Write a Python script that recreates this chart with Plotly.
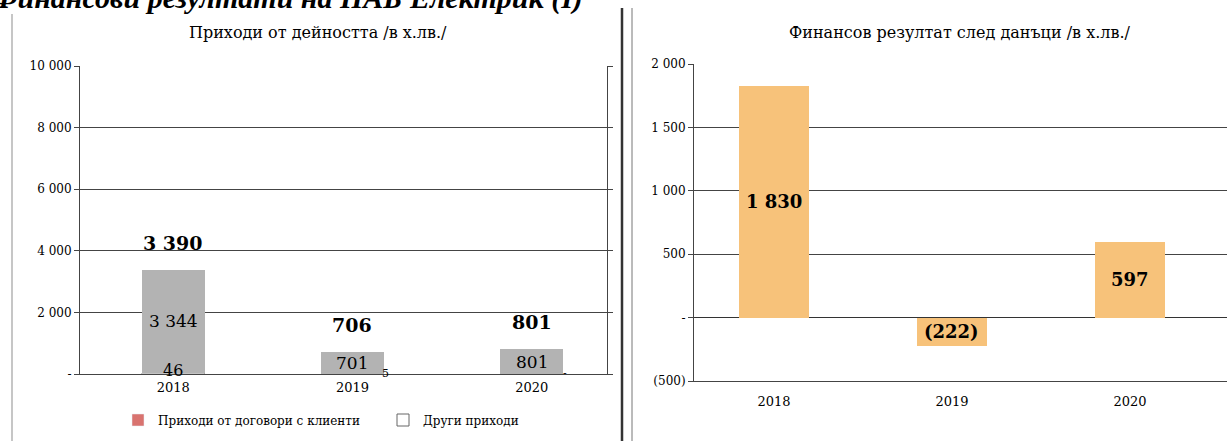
import plotly.graph_objects as go

W, H = 1227, 441

years = ["2018", "2019", "2020"]
rev_contracts = [3344, 701, 801]
rev_other = [46, 5, 0]
net_result = [1830, -222, 597]

left_ticks = [0, 2000, 4000, 6000, 8000, 10000]
left_ticktext = ["-", "2 000", "4 000", "6 000", "8 000", "10 000"]
right_ticks = [-500, 0, 500, 1000, 1500, 2000]
right_ticktext = ["(500)", "-", "500", "1 000", "1 500", "2 000"]

heading = "Финансови резултати на НАБ Електрик (I)"
title_left = "Приходи от дейността /в х.лв./"
title_right = "Финансов резултат след данъци /в х.лв./"
name_contracts = "Приходи от договори с клиенти"
name_other = "Други приходи"

FONT = "DejaVu Serif"
HFONT = "Liberation Serif"
GRAY = "#b3b3b3"
ORANGE = "#f7c27a"
LEGEND_RED = "#d9736f"


def fmt(v):
    if v == 0:
        return "-"
    s = f"{abs(v):,}".replace(",", " ")
    return f"({s})" if v < 0 else s


def px(x):
    return x / W


def py(y):
    return 1 - y / H


fig = go.Figure()

# left chart: stacked revenue bars
fig.add_trace(go.Bar(x=years, y=rev_other, marker=dict(color="white", line=dict(color="#888", width=0.5)),
                     width=0.35, showlegend=False, xaxis="x", yaxis="y", hoverinfo="skip"))
fig.add_trace(go.Bar(x=years, y=rev_contracts, marker=dict(color=GRAY, line=dict(width=0)),
                     width=0.35, showlegend=False, xaxis="x", yaxis="y"))
# legend entries
fig.add_trace(go.Bar(x=[None], y=[None], name=name_contracts, marker=dict(color=LEGEND_RED),
                     xaxis="x", yaxis="y"))
fig.add_trace(go.Bar(x=[None], y=[None], name=name_other,
                     marker=dict(color="white", line=dict(color="#666", width=1)),
                     xaxis="x", yaxis="y"))

# right chart
fig.add_trace(go.Bar(x=years, y=net_result, marker=dict(color=ORANGE, line=dict(width=0)),
                     width=0.39, showlegend=False, xaxis="x2", yaxis="y2"))

annotations = []
for i, yr in enumerate(years):
    total = rev_contracts[i] + rev_other[i]
    annotations.append(dict(x=i, y=total, xref="x", yref="y", text=f"<b>{fmt(total)}</b>",
                            showarrow=False, yanchor="bottom", yshift=14,
                            font=dict(family=FONT, size=19, color="black")))
    annotations.append(dict(x=i, y=rev_other[i] + rev_contracts[i] / 2, xref="x", yref="y",
                            text=fmt(rev_contracts[i]), showarrow=False,
                            font=dict(family=FONT, size=17, color="black")))
    if i == 0:
        annotations.append(dict(x=i, y=0, xref="x", yref="y", text=fmt(rev_other[i]),
                                showarrow=False, yanchor="middle", yshift=4,
                                font=dict(family=FONT, size=16, color="black")))
    else:
        annotations.append(dict(x=i, y=0, xref="x", yref="y", text=fmt(rev_other[i]),
                                showarrow=False, yanchor="middle", xshift=33, yshift=1,
                                font=dict(family=FONT, size=11, color="black")))
for i, yr in enumerate(years):
    annotations.append(dict(x=i, y=net_result[i] / 2, xref="x2", yref="y2",
                            text=f"<b>{fmt(net_result[i])}</b>", showarrow=False,
                            font=dict(family=FONT, size=18, color="black")))

annotations += [
    dict(x=px(318), y=py(32), xref="paper", yref="paper", text=title_left, showarrow=False,
         xanchor="center", yanchor="middle", font=dict(family=FONT, size=16, color="black")),
    dict(x=px(960), y=py(33), xref="paper", yref="paper", text=title_right, showarrow=False,
         xanchor="center", yanchor="middle", font=dict(family=FONT, size=16, color="black")),
    dict(x=px(-10), y=py(-2), xref="paper", yref="paper", text=f"<b><i>{heading}</i></b>",
         showarrow=False, xanchor="left", yanchor="middle",
         font=dict(family=HFONT, size=30, color="black")),
]

shapes = [
    dict(type="line", xref="paper", yref="paper", x0=px(12), x1=px(12), y0=py(14), y1=py(441),
         line=dict(color="#a0a0a0", width=1.2)),
    dict(type="line", xref="paper", yref="paper", x0=px(622), x1=px(622), y0=py(8), y1=py(441),
         line=dict(color="#333", width=2.5)),
    dict(type="line", xref="paper", yref="paper", x0=px(632), x1=px(632), y0=py(8), y1=py(441),
         line=dict(color="#777", width=1)),
]

xfont = dict(family=FONT, size=13, color="black")
yfont = dict(family=FONT, size=12, color="black")

fig.update_layout(
    width=W, height=H, margin=dict(l=0, r=0, t=0, b=0, autoexpand=False),
    paper_bgcolor="white", plot_bgcolor="white", barmode="stack", bargap=0,
    font=dict(family=FONT, color="black"),
    xaxis=dict(domain=[px(80), px(607)], range=[-0.52, 2.42], type="category",
               ticks="", ticklabelstandoff=1, showgrid=False, showline=True, linecolor="#444",
               linewidth=1, tickfont=xfont),
    yaxis=dict(domain=[py(374), py(66)], range=[0, 10000], tickvals=left_ticks, ticktext=left_ticktext,
               ticks="outside", ticklen=5, tickcolor="#444", showgrid=True, gridcolor="#444",
               gridwidth=1, zeroline=False, showline=True, linecolor="#444", linewidth=1,
               mirror="ticks", tickfont=yfont),
    xaxis2=dict(domain=[px(694), 1], range=[-0.449, 2.545], type="category", anchor="y2",
                ticks="", ticklabelstandoff=8, showgrid=False, showline=True, linecolor="#444",
                linewidth=1, tickfont=xfont),
    yaxis2=dict(domain=[py(381), py(64)], range=[-500, 2000], tickvals=right_ticks,
                ticktext=right_ticktext, anchor="x2", ticks="outside", ticklen=5, tickcolor="#444",
                showgrid=True, gridcolor="#444", gridwidth=1, zeroline=True, zerolinecolor="#333",
                zerolinewidth=1.2, showline=True, linecolor="#444", linewidth=1, tickfont=yfont),
    legend=dict(orientation="h", x=px(118), y=py(420), yanchor="middle", xanchor="left",
                font=dict(family=FONT, size=12, color="black"), entrywidth=220,
                itemwidth=30, traceorder="normal", bgcolor="rgba(0,0,0,0)"),
    annotations=annotations, shapes=shapes,
)

fig.write_html("out.html", config={"displayModeBar": False},
               post_script="document.body.style.margin='0';")
